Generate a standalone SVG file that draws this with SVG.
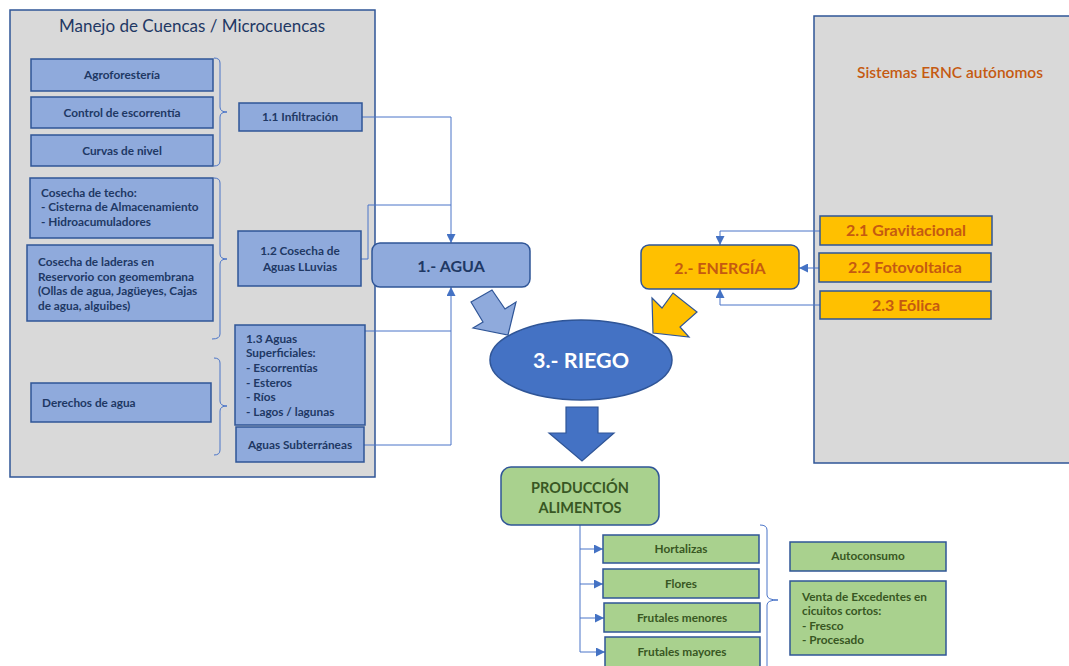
<svg xmlns="http://www.w3.org/2000/svg" width="1069" height="666" viewBox="0 0 1069 666">
<defs>
<style>
.panel{fill:#d9d9d9;stroke:#2f5597;stroke-width:1.5}
.bb{fill:#8faadc;stroke:#2f5597;stroke-width:1.5}
.ob{fill:#ffc000;stroke:#2f5597;stroke-width:1.5}
.gb{fill:#a9d18e;stroke:#2f5597;stroke-width:1.5}
.t{font-family:Lato,"Liberation Sans",sans-serif;font-weight:bold}
.tb{fill:#203864;font-size:11.8px}
.to{fill:#c55a11;font-size:16px}
.tg{fill:#385723;font-size:11.8px}
.c{fill:none;stroke:#4a74c8;stroke-width:1}
.br{fill:none;stroke:#4a74c8;stroke-width:1}
.mid{text-anchor:middle}
</style>
<marker id="ah" viewBox="0 0 10 10" refX="10" refY="5" markerWidth="9" markerHeight="9" markerUnits="userSpaceOnUse" orient="auto">
<path d="M0,0 L10,5 L0,10 z" fill="#4472c4"/>
</marker>
</defs>
<rect width="1069" height="666" fill="#ffffff"/>

<g id="panel-cuencas">
<rect class="panel" x="10" y="10" width="365" height="467"/>
<text x="192" y="32" text-anchor="middle" font-family="Lato,'Liberation Sans',sans-serif" font-size="17" fill="#1f3864">Manejo de Cuencas / Microcuencas</text>
</g>
<g id="panel-ernc">
<rect class="panel" x="814" y="16" width="262" height="447"/>
<text x="950" y="78" text-anchor="middle" font-family="Lato,'Liberation Sans',sans-serif" font-size="15.5" font-weight="600" fill="#c55a11">Sistemas ERNC autónomos</text>
</g>

<g id="connectors">
<path class="br" d="M214,58 Q220,58 220,63 V107 Q220,112 227,112 Q220,112 220,117 V161 Q220,166 214,166"/>
<path class="br" d="M214,178 Q220,178 220,183 V254 Q220,259 227,259 Q220,259 220,264 V334 Q220,339 212,339"/>
<path class="br" d="M214,358 Q220,358 220,363 V401 Q220,406 227,406 Q220,406 220,411 V450 Q220,455 214,455"/>
<path class="br" d="M760,525 Q767,525 767,530 V595 Q767,600 778,600 Q767,600 767,605 V670"/>
<path class="c" d="M362,117 H451 V243" marker-end="url(#ah)"/>
<path class="c" d="M361,259 H368 V205 H451"/>
<path class="c" d="M365,331 H451"/>
<path class="c" d="M364,445 H451 V287" marker-end="url(#ah)"/>
<path class="c" d="M820,231 H720 V245" marker-end="url(#ah)"/>
<path class="c" d="M819,268 H799" marker-end="url(#ah)"/>
<path class="c" d="M820,305 H720 V289" marker-end="url(#ah)"/>
<path class="c" d="M580,525 V652"/>
<path class="c" d="M580,549 H603" marker-end="url(#ah)"/>
<path class="c" d="M580,584 H603" marker-end="url(#ah)"/>
<path class="c" d="M580,618 H604" marker-end="url(#ah)"/>
<path class="c" d="M580,652 H605" marker-end="url(#ah)"/>
<polygon points="471,302 492,290 505,309 516,302 508,335 473,328 483,322" fill="#8faadc" stroke="#2f5597" stroke-width="1.2"/>
<polygon points="652,298 662,308 673,293 697,312 680,327 689,337 653,333" fill="#ffc000" stroke="#2f5597" stroke-width="1.2"/>
<polygon points="566,407 598,407 598,433 614,433 582,461 549,433 566,433" fill="#4472c4" stroke="#2f5597" stroke-width="1.2"/>
</g>

<g id="agroforesteria"><rect class="bb" x="31" y="59" width="182" height="32"/><text class="t tb mid" x="122" y="79">Agroforestería</text></g>
<g id="control-escorrentia"><rect class="bb" x="31" y="97" width="182" height="31"/><text class="t tb mid" x="122" y="117">Control de escorrentía</text></g>
<g id="curvas-nivel"><rect class="bb" x="31" y="135" width="182" height="31"/><text class="t tb mid" x="122" y="155">Curvas de nivel</text></g>
<g id="infiltracion"><rect class="bb" x="239" y="103" width="123" height="28"/><text class="t tb mid" x="300" y="121">1.1 Infiltración</text></g>
<g id="cosecha-techo"><rect class="bb" x="30" y="178" width="183" height="60"/><text class="t tb" x="41" y="197">Cosecha de techo:</text><text class="t tb" x="41" y="211">- Cisterna de Almacenamiento</text><text class="t tb" x="41" y="226">- Hidroacumuladores</text></g>
<g id="cosecha-laderas"><rect class="bb" x="27" y="245" width="186" height="76"/><text class="t tb" x="38" y="266">Cosecha de laderas en</text><text class="t tb" x="38" y="281">Reservorio con geomembrana</text><text class="t tb" x="38" y="295">(Ollas de agua, Jagüeyes, Cajas</text><text class="t tb" x="38" y="310">de agua, alguibes)</text></g>
<g id="cosecha-lluvias"><rect class="bb" x="238" y="231" width="123" height="55"/><text class="t tb mid" x="300" y="255">1.2 Cosecha de</text><text class="t tb mid" x="300" y="271">Aguas LLuvias</text></g>
<g id="aguas-superficiales"><rect class="bb" x="235" y="325" width="130" height="100"/><text class="t tb" x="246" y="343">1.3 Aguas</text><text class="t tb" x="246" y="357">Superficiales:</text><text class="t tb" x="246" y="372">- Escorrentías</text><text class="t tb" x="246" y="387">- Esteros</text><text class="t tb" x="246" y="401">- Ríos</text><text class="t tb" x="246" y="416">- Lagos / lagunas</text></g>
<g id="aguas-subterraneas"><rect class="bb" x="236" y="427" width="128" height="35"/><text class="t tb mid" x="300" y="449">Aguas Subterráneas</text></g>
<g id="derechos-agua"><rect class="bb" x="31" y="383" width="180" height="39"/><text class="t tb" x="42" y="407">Derechos de agua</text></g>

<g id="agua"><rect class="bb" x="372" y="243" width="158" height="44" rx="8"/><text class="t mid" x="451" y="272" font-size="16" fill="#203864">1.- AGUA</text></g>
<g id="energia"><rect class="ob" x="641" y="245" width="158" height="44" rx="8"/><text class="t mid" x="720" y="274" font-size="16" fill="#c55a11">2.- ENERGÍA</text></g>
<g id="gravitacional"><rect class="ob" x="820" y="216" width="172" height="29"/><text class="t to mid" x="906" y="236">2.1 Gravitacional</text></g>
<g id="fotovoltaica"><rect class="ob" x="819" y="253" width="172" height="29"/><text class="t to mid" x="905" y="273">2.2 Fotovoltaica</text></g>
<g id="eolica"><rect class="ob" x="820" y="291" width="171" height="28"/><text class="t to mid" x="906" y="311">2.3 Eólica</text></g>

<g id="riego"><ellipse cx="581" cy="360" rx="91" ry="40" fill="#4472c4" stroke="#2f5597" stroke-width="1.5"/><text class="t mid" x="581" y="368" font-size="21.5" fill="#ffffff">3.- RIEGO</text></g>

<g id="produccion"><rect class="gb" x="501" y="467" width="158" height="58" rx="10"/><text class="t mid" x="580" y="493" font-size="14.5" fill="#385723">PRODUCCIÓN</text><text class="t mid" x="580" y="513" font-size="14.5" fill="#385723">ALIMENTOS</text></g>
<g id="hortalizas"><rect class="gb" x="603" y="535" width="156" height="28"/><text class="t tg mid" x="681" y="553">Hortalizas</text></g>
<g id="flores"><rect class="gb" x="603" y="569" width="156" height="29"/><text class="t tg mid" x="681" y="588">Flores</text></g>
<g id="frutales-menores"><rect class="gb" x="604" y="603" width="156" height="29"/><text class="t tg mid" x="682" y="622">Frutales menores</text></g>
<g id="frutales-mayores"><rect class="gb" x="605" y="637" width="155" height="30"/><text class="t tg mid" x="682" y="656">Frutales mayores</text></g>
<g id="autoconsumo"><rect class="gb" x="790" y="542" width="156" height="29"/><text class="t tg mid" x="868" y="560">Autoconsumo</text></g>
<g id="venta"><rect class="gb" x="790" y="581" width="156" height="74"/><text class="t tg" x="802" y="601">Venta de Excedentes en</text><text class="t tg" x="802" y="615">cicuitos cortos:</text><text class="t tg" x="802" y="630">- Fresco</text><text class="t tg" x="802" y="644">- Procesado</text></g>
</svg>
